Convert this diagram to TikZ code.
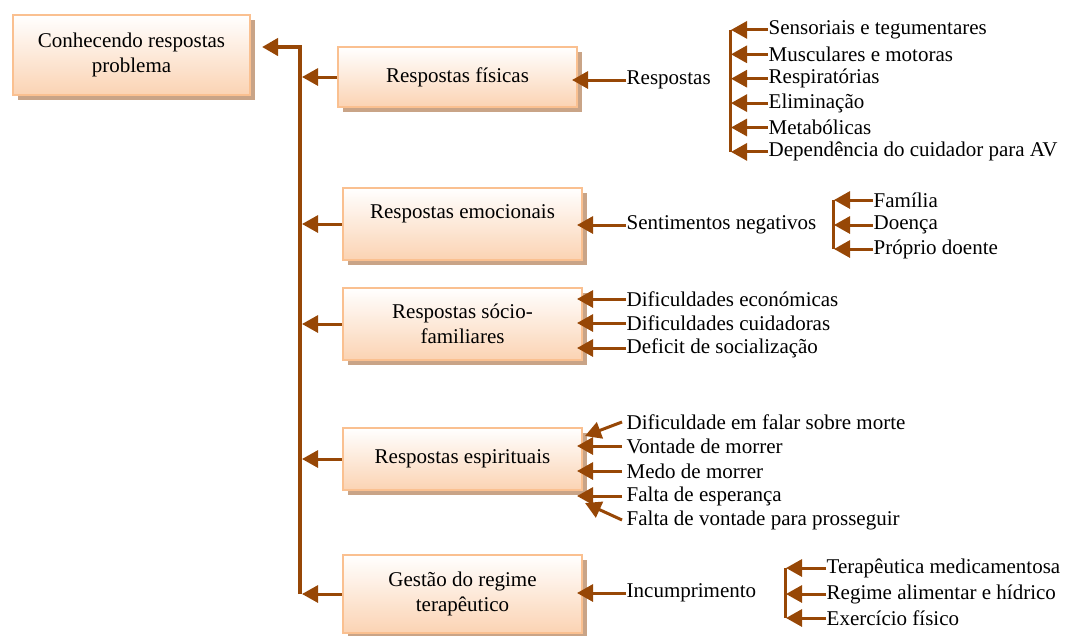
\documentclass[tikz,border=0pt]{standalone}
\usepackage{fontspec}
\setmainfont{Liberation Serif}
\usetikzlibrary{shadows,arrows.meta}
\definecolor{arrbrown}{HTML}{974706}
\definecolor{boxline}{HTML}{FAC090}
\definecolor{boxbot}{HTML}{FBD3B3}
\definecolor{shadowc}{HTML}{C9A487}
\begin{document}
\begin{tikzpicture}[x=1pt,y=-1pt,font=\fontsize{21}{25}\selectfont,
  box/.style={draw=boxline, line width=2pt, top color=white, bottom color=boxbot, align=center, inner sep=2pt,
    drop shadow={shadow xshift=5pt, shadow yshift=-5pt, fill=shadowc, opacity=1}},
  txt/.style={anchor=west, inner sep=0.5pt},
  arr/.style={draw=arrbrown, line width=3pt, arrows={-Triangle[length=16pt,width=17pt]}},
  brk/.style={draw=arrbrown, line width=3pt}]
\path[use as bounding box] (0,0) rectangle (1065,635);
% boxes
\node[box, minimum width=237pt, minimum height=80pt] (root) at (131.5,55) {Conhecendo respostas\\problema};
\node[box, minimum width=239pt, minimum height=60pt] (fis) at (457.5,77) {Respostas físicas};
\node[box, minimum width=239pt, minimum height=72pt] (emo) at (462.5,224) {Respostas emocionais\\\mbox{}};
\node[box, minimum width=239pt, minimum height=72pt] (soc) at (462.5,324) {Respostas sócio-\\familiares};
\node[box, minimum width=239pt, minimum height=62pt] (esp) at (462.5,459) {Respostas espirituais};
\node[box, minimum width=239pt, minimum height=78pt] (ges) at (462.5,594) {Gestão do regime\\terapêutico};
% trunk
\coordinate (top) at (300,47);
\coordinate (rootin) at (262,47);
\draw[arr, line width=4pt] (ges.west -| top) -- (top) -- (rootin);
\foreach \b in {fis,emo,soc,esp,ges}
  \draw[arr, shorten >=2pt] (\b.west) -- (\b.west -| top);
% respostas fisicas
\node[txt] (resp) at (626,80) {Respostas};
\draw[arr, shorten >=-6pt] (resp.west) -- (resp.west -| fis.east);
\coordinate (b1) at (730,0);
\foreach \t [count=\i] in {Sensoriais e tegumentares, Musculares e motoras, Respiratórias, Eliminação, Metabólicas, Dependência do cuidador para AV}
  \node[txt] (s\i) at (768,5.5+24.4*\i) {\t};
\draw[brk] (s1.west -| b1) -- (s6.west -| b1);
\foreach \i in {1,...,6}
  \draw[arr, shorten >=1pt] (s\i.west) -- (s\i.west -| b1);
% respostas emocionais
\node[txt] (sent) at (626,225) {Sentimentos negativos};
\draw[arr, shorten >=-6pt] (sent.west) -- (sent.west -| emo.east);
\coordinate (b2) at (833,0);
\node[txt] (f1) at (873,200) {Família};
\node[txt] (f2) at (873,225) {Doença};
\node[txt] (f3) at (873,249) {Próprio doente};
\draw[brk] (f1.west -| b2) -- (f3.west -| b2);
\foreach \i in {1,2,3}
  \draw[arr, shorten >=1pt] (f\i.west) -- (f\i.west -| b2);
% respostas socio-familiares
\node[txt] (d1) at (626,299) {Dificuldades económicas};
\node[txt] (d2) at (626,323) {Dificuldades cuidadoras};
\node[txt] (d3) at (626,348) {Deficit de socialização};
\foreach \i in {1,2,3}
  \draw[arr, shorten >=-6pt] (d\i.west) -- (d\i.west -| soc.east);
% respostas espirituais
\node[txt] (e1) at (626,422) {Dificuldade em falar sobre morte};
\node[txt] (e2) at (626,446) {Vontade de morrer};
\node[txt] (e3) at (626,471) {Medo de morrer};
\node[txt] (e4) at (626,496) {Falta de esperança};
\node[txt] (e5) at (626,520) {Falta de vontade para prosseguir};
\coordinate (eup) at (585,436);
\coordinate (edn) at (585,503);
\draw[arr] ([xshift=-4pt]e1.west) -- (eup);
\foreach \i in {2,3,4}
  \draw[arr, shorten >=-6pt] ([xshift=-4pt]e\i.west) -- (e\i.west -| esp.east);
\draw[arr] ([xshift=-4pt]e5.west) -- (edn);
% gestao do regime
\node[txt] (inc) at (626,593) {Incumprimento};
\draw[arr, shorten >=-6pt] (inc.west) -- (inc.west -| ges.east);
\coordinate (b3) at (785,0);
\node[txt] (g1) at (826,568) {Terapêutica medicamentosa};
\node[txt] (g2) at (826,594) {Regime alimentar e hídrico};
\node[txt] (g3) at (826,618) {Exercício físico};
\draw[brk] (g1.west -| b3) -- (g3.west -| b3);
\foreach \i in {1,2,3}
  \draw[arr, shorten >=1pt] (g\i.west) -- (g\i.west -| b3);
\end{tikzpicture}
\end{document}
